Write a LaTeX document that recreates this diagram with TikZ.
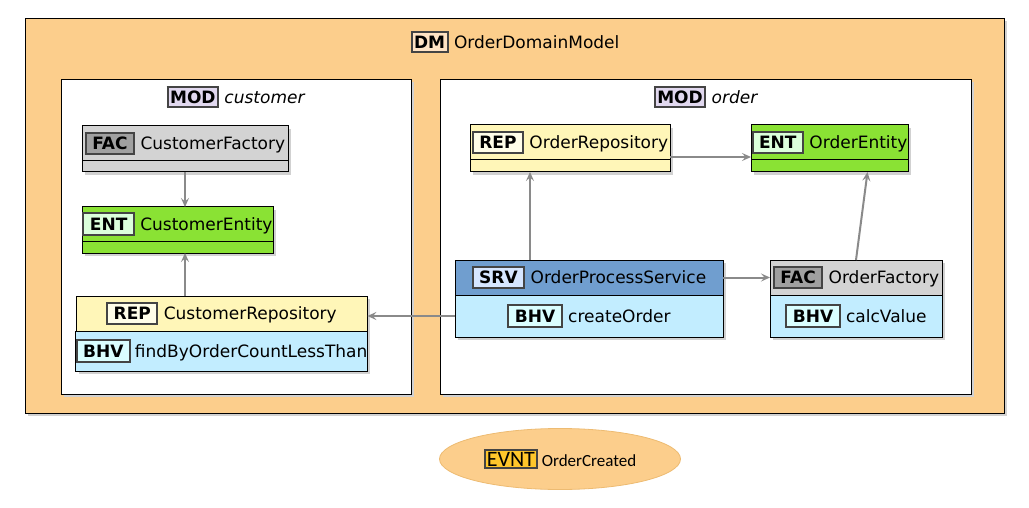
\documentclass[tikz,border=0pt]{standalone}
\usepackage{fontspec}
\setmainfont{DejaVu Sans}
\newfontfamily\evfont{Carlito}
\usetikzlibrary{positioning,shadows,arrows.meta,shapes.geometric}

\definecolor{dmfill}{HTML}{FCCE8C}
\definecolor{dmtag}{HTML}{FFE3C4}
\definecolor{modtag}{HTML}{E1D8EF}
\definecolor{facfill}{HTML}{D3D3D3}
\definecolor{factag}{HTML}{A0A0A0}
\definecolor{entfill}{HTML}{8AE234}
\definecolor{enttag}{HTML}{DBFFDB}
\definecolor{repfill}{HTML}{FFF6B8}
\definecolor{reptag}{HTML}{FFFDE8}
\definecolor{bhvfill}{HTML}{C2EDFF}
\definecolor{bhvtag}{HTML}{DAFEFF}
\definecolor{srvfill}{HTML}{709ECF}
\definecolor{srvtag}{HTML}{D6E6FF}
\definecolor{evtag}{HTML}{FFC62B}
\definecolor{evline}{HTML}{EDBB72}
\definecolor{tagline}{HTML}{444444}
\definecolor{linkgray}{HTML}{8A8A8A}

% tag of a class or behaviour
\newcommand{\tg}[2]{{\setlength{\fboxsep}{3.5pt}\setlength{\fboxrule}{2pt}%
  \fcolorbox{tagline}{#1}{\hspace{2pt}\bfseries #2\hspace{2pt}}}}
% tag of a domain or module
\newcommand{\mtg}[2]{{\setlength{\fboxsep}{2.5pt}\setlength{\fboxrule}{2pt}%
  \fcolorbox{tagline}{#1}{\hspace{-1pt}\bfseries #2\hspace{-1pt}}}}

\tikzset{
  shdw/.style={drop shadow={shadow xshift=3pt, shadow yshift=-3pt, fill=black!18, opacity=1}},
  box/.style={draw, line width=0.8pt, fill=white, inner sep=0pt, anchor=north west, shdw},
  hdr/.style={draw, line width=1pt, inner sep=0pt, outer sep=0pt, minimum width=#1, minimum height=35pt,
    anchor=north west, font=\fontsize{17}{20}\selectfont, shdw},
  cmp/.style={draw, line width=1pt, inner sep=0pt, outer sep=0pt, minimum width=#1,
    font=\fontsize{17}{20}\selectfont, shdw},
  title/.style={inner sep=0pt, font=\fontsize{17}{20}\selectfont},
  link/.style={draw=linkgray, line width=2pt, -{Stealth[length=9pt,width=8pt,inset=3.5pt]}}
}

\begin{document}
\begin{tikzpicture}[x=1pt,y=-1pt]
\useasboundingbox (0,0) rectangle (1029,508);

% domain model
\node[box, fill=dmfill, minimum width=979pt, minimum height=395pt] (dm) at (25,18) {};
\node[title] (dmtitle) at (515,42) {\mtg{dmtag}{DM} OrderDomainModel};

% modules
\node[box, minimum width=350pt, minimum height=315pt] (mcust) at (61,79) {};
\node[title] (mcusttitle) at (236,97) {\mtg{modtag}{MOD} \textit{customer}};
\node[box, minimum width=531pt, minimum height=315pt] (morder) at (440,79) {};
\node[title] (mordertitle) at (706,97) {\mtg{modtag}{MOD} \textit{order}};

% customer
\node[hdr=206pt, fill=facfill] (cfac) at (82,126) {\tg{factag}{FAC} CustomerFactory};
\node[cmp=206pt, fill=facfill, minimum height=11pt, below=0pt of cfac] (cfacb) {};
\node[hdr=191pt, fill=entfill, minimum height=34pt] (cent) at (82,207) {\tg{enttag}{ENT} CustomerEntity};
\node[cmp=191pt, fill=entfill, minimum height=12pt, below=0pt of cent] (centb) {};
\node[hdr=291pt, fill=repfill] (crep) at (76,296) {\tg{reptag}{REP} CustomerRepository};
\node[cmp=291pt, fill=bhvfill, minimum height=40pt, below=0pt of crep] (crepb) {\tg{bhvtag}{BHV}\hspace{4pt}findByOrderCountLessThan};

% order
\node[hdr=200pt, fill=repfill] (orep) at (470,125) {\tg{reptag}{REP} OrderRepository};
\node[cmp=200pt, fill=repfill, minimum height=12pt, below=0pt of orep] (orepb) {};
\node[hdr=157pt, fill=entfill] (oent) at (751,125) {\tg{enttag}{ENT} OrderEntity};
\node[cmp=157pt, fill=entfill, minimum height=12pt, below=0pt of oent] (oentb) {};
\node[hdr=268pt, fill=srvfill] (srv) at (455,260) {\tg{srvtag}{SRV} OrderProcessService};
\node[cmp=268pt, fill=bhvfill, minimum height=42pt, below=0pt of srv] (srvb) {\tg{bhvtag}{BHV} createOrder};
\node[hdr=172pt, fill=facfill] (ofac) at (770,260) {\tg{factag}{FAC} OrderFactory};
\node[cmp=172pt, fill=bhvfill, minimum height=42pt, below=0pt of ofac] (ofacb) {\tg{bhvtag}{BHV} calcValue};

% event
\node[ellipse, draw=evline, line width=0.8pt, fill=dmfill, minimum width=241pt, minimum height=61pt,
  font=\evfont\fontsize{17}{20}\selectfont] (evt) at (560,459)
  {{\setlength{\fboxsep}{1pt}\setlength{\fboxrule}{2pt}\fcolorbox{tagline}{evtag}{\fontsize{22}{22}\selectfont EVNT}} OrderCreated};

% links
\draw[link] (cfacb.south) -- (cfacb.south |- cent.north);
\draw[link] (crep.north -| cfacb.south) -- (centb.south -| cfacb.south);
\draw[link] (srvb.west) -- (srvb.west -| crepb.east);
\draw[link] ([xshift=75pt]srv.north west) -- ([xshift=60pt]orepb.south west);
\draw[link] ([yshift=15pt]orepb.south east) -- ([yshift=15pt]orepb.south east -| oent.west);
\draw[link] (srv.east) -- (srv.east -| ofac.west);
\draw[link] (ofac.north) -- ([xshift=38pt]oentb.south);
\end{tikzpicture}
\end{document}
